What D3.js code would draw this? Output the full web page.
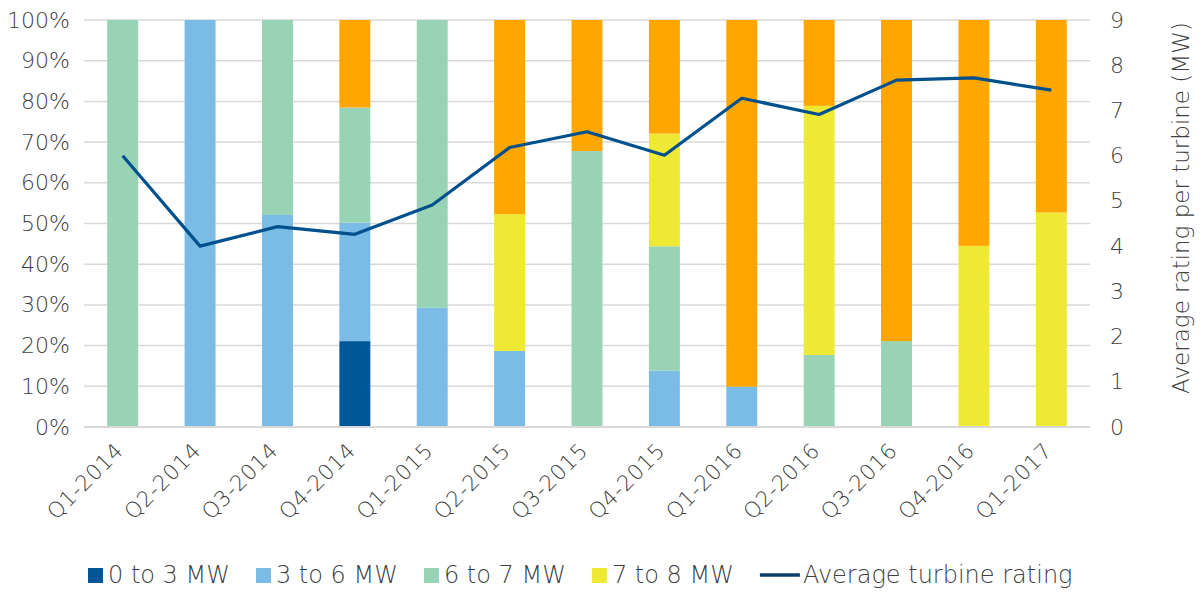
<!DOCTYPE html>
<html>
<head>
<meta charset="utf-8">
<script src="https://cdn.jsdelivr.net/npm/d3@7/dist/d3.min.js"></script>
<style>
  html, body { margin: 0; padding: 0; background: #fff; }
  svg { display: block; font-family: "DejaVu Sans", sans-serif; font-weight: 200; }
</style>
</head>
<body>
<svg id="chart" width="1203" height="595"></svg>
<script>
// Quarterly share of installed turbines by rating class (%), plus average rating (MW)
const quarters = ["Q1-2014", "Q2-2014", "Q3-2014", "Q4-2014", "Q1-2015", "Q2-2015", "Q3-2015",
                  "Q4-2015", "Q1-2016", "Q2-2016", "Q3-2016", "Q4-2016", "Q1-2017"];
const share0to3 = [0, 0, 0, 21.1, 0, 0, 0, 0, 0, 0, 0, 0, 0];
const share3to6 = [0, 100, 52.1, 29.1, 29.3, 18.7, 0, 13.8, 9.9, 0, 0, 0, 0];
const share6to7 = [100, 0, 47.9, 28.3, 70.7, 0, 67.8, 30.6, 0, 17.7, 21.1, 0, 0];
const share7to8 = [0, 0, 0, 0, 0, 33.6, 0, 27.7, 0, 61.2, 0, 44.5, 52.7];
const shareOver8 = [0, 0, 0, 21.5, 0, 47.7, 32.2, 27.9, 90.1, 21.1, 78.9, 55.5, 47.3];
const avgRating = [6.0, 4.0, 4.43, 4.26, 4.91, 6.18, 6.53, 6.01, 7.27, 6.91, 7.67, 7.72, 7.45];

const seriesNames = ["0 to 3 MW", "3 to 6 MW", "6 to 7 MW", "7 to 8 MW", "Over 8 MW"];
const seriesValues = [share0to3, share3to6, share6to7, share7to8, shareOver8];
const seriesColors = ["#005797", "#7bbce7", "#98d3b6", "#eee934", "#ffa600"];
const legendSeries = ["0 to 3 MW", "3 to 6 MW", "6 to 7 MW", "7 to 8 MW"];
const lineName = "Average turbine rating";
const lineColor = "#00508e";
const leftTicks = [0, 10, 20, 30, 40, 50, 60, 70, 80, 90, 100];
const rightTicks = [0, 1, 2, 3, 4, 5, 6, 7, 8, 9];
const rightTitle = "Average rating per turbine (MW)";

const svg = d3.select("#chart");
const textColor = "#404040";
const plot = { left: 84, right: 1090, top: 20, bottom: 427 };

const x = d3.scaleBand().domain(quarters)
  .range([plot.left, plot.right]).paddingInner(0.6).paddingOuter(0.3);
const yPct = d3.scaleLinear().domain([0, 100]).range([plot.bottom, plot.top]);
const yMW = d3.scaleLinear().domain([0, 9]).range([plot.bottom, plot.top]);

// Gridlines
svg.append("g").selectAll("line").data(leftTicks).join("line")
  .attr("x1", plot.left).attr("x2", plot.right)
  .attr("y1", d => yPct(d)).attr("y2", d => yPct(d))
  .attr("stroke", "#d9d9d9").attr("stroke-width", 1.5);

// Left axis (percent)
const leftAxis = svg.append("g")
  .attr("transform", `translate(${plot.left},0)`)
  .call(d3.axisLeft(yPct).tickValues(leftTicks).tickFormat(d => d + "%").tickSize(0).tickPadding(14));
leftAxis.select(".domain").remove();
leftAxis.selectAll("text").attr("font-size", 22).attr("fill", textColor)
  .attr("font-family", "DejaVu Sans, sans-serif").attr("font-weight", 200);

// Right axis (MW)
const rightAxis = svg.append("g")
  .attr("transform", `translate(${plot.right},0)`)
  .call(d3.axisRight(yMW).tickValues(rightTicks).tickFormat(d3.format("d")).tickSize(0).tickPadding(20));
rightAxis.select(".domain").remove();
rightAxis.selectAll("text").attr("font-size", 22).attr("fill", textColor)
  .attr("font-family", "DejaVu Sans, sans-serif").attr("font-weight", 200);

svg.append("text")
  .attr("transform", `translate(1189, 208) rotate(-90)`)
  .attr("text-anchor", "middle")
  .attr("font-size", 23).attr("fill", textColor)
  .text(rightTitle);

// Stacked bars
const rows = quarters.map((q, i) => {
  const r = { quarter: q };
  seriesNames.forEach((s, k) => { r[s] = seriesValues[k][i]; });
  return r;
});
const stacked = d3.stack().keys(seriesNames)(rows);
const color = d3.scaleOrdinal().domain(seriesNames).range(seriesColors);

svg.append("g").selectAll("g").data(stacked).join("g")
  .attr("fill", d => color(d.key))
  .selectAll("rect").data(d => d.filter(p => p[1] - p[0] > 0)).join("rect")
  .attr("x", d => x(d.data.quarter))
  .attr("width", x.bandwidth())
  .attr("y", d => yPct(d[1]))
  .attr("height", d => yPct(d[0]) - yPct(d[1]));

// Baseline
svg.append("line")
  .attr("x1", plot.left).attr("x2", plot.right)
  .attr("y1", plot.bottom).attr("y2", plot.bottom)
  .attr("stroke", "#d9d9d9").attr("stroke-width", 2);

// Average rating line
const line = d3.line()
  .x((d, i) => x(quarters[i]) + x.bandwidth() / 2)
  .y(d => yMW(d));
svg.append("path").datum(avgRating)
  .attr("d", line)
  .attr("fill", "none").attr("stroke", lineColor)
  .attr("stroke-width", 3.2).attr("stroke-linejoin", "round");

// Category labels, rotated
svg.append("g").selectAll("text").data(quarters).join("text")
  .attr("transform", d => `translate(${x(d) + x.bandwidth() / 2 + 2}, 452) rotate(-45)`)
  .attr("text-anchor", "end")
  .attr("font-size", 21.5).attr("letter-spacing", 0.6).attr("fill", textColor)
  .text(d => d);

// Legend
const legend = svg.append("g").attr("transform", "translate(88, 583)");
let cursor = 0;
legendSeries.forEach(name => {
  const g = legend.append("g").attr("transform", `translate(${cursor},0)`);
  g.append("rect").attr("x", 0).attr("y", -15).attr("width", 15).attr("height", 15)
    .attr("fill", color(name));
  const t = g.append("text").attr("x", 20).attr("y", 0)
    .attr("font-size", 24).attr("fill", textColor).text(name);
  cursor += 20 + t.node().getComputedTextLength() + 26;
});
const lg = legend.append("g").attr("transform", `translate(${cursor},0)`);
lg.append("line").attr("x1", 0).attr("x2", 40).attr("y1", -8).attr("y2", -8)
  .attr("stroke", "#0e3f68").attr("stroke-width", 3.5);
lg.append("text").attr("x", 43).attr("y", 0)
  .attr("font-size", 24).attr("fill", textColor).text(lineName);
</script>
</body>
</html>
